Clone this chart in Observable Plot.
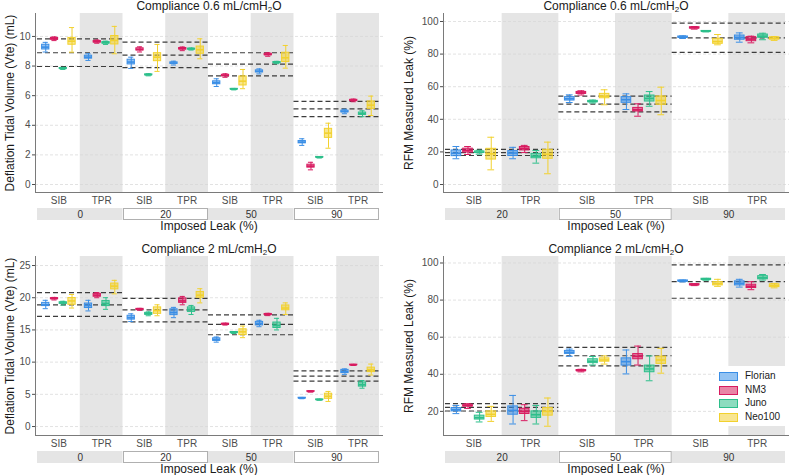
<!DOCTYPE html>
<html><head><meta charset="utf-8">
<script src="https://cdn.jsdelivr.net/npm/d3@7"></script>
<script src="https://cdn.jsdelivr.net/npm/@observablehq/plot@0.6"></script>
<style>
body{margin:0;background:#fff;font-family:"Liberation Sans",Arial,sans-serif;}
#wrap{position:relative;width:789px;height:475px;overflow:hidden;background:#fff;}
#wrap svg{position:absolute;}
.t{position:absolute;white-space:nowrap;color:#1a1a1a;}
.title{font-size:12px;line-height:14px;transform:translateX(-50%);}
.title sub{font-size:8px;vertical-align:-2px;line-height:0;}
.xl{font-size:12px;line-height:11px;height:11px;transform:translateX(-50%);}
.yl{font-size:12px;line-height:14px;transform:translate(-50%,-50%) rotate(-90deg);}
.legend{position:absolute;left:715px;top:366px;width:74px;height:60px;background:#fff;}
.legend .row{position:absolute;left:4px;height:10px;}
.legend .key{position:absolute;left:0;top:0;width:17px;height:7px;border:1px solid;}
.legend .lab{position:absolute;left:26px;top:-2px;font-size:10px;line-height:12px;color:#1a1a1a;white-space:nowrap;}
</style></head><body><div id="wrap"></div>
<script>
// ---------- data ----------
const devices = ["Florian", "NM3", "Juno", "Neo100"];
const deviceColors = ["#3a8ee6", "#d81b60", "#2dbf8b", "#f2d12e"];
const legendFills = ["#93c3f3", "#e885a6", "#8ddcbf", "#f8e590"];
const modes = ["SIB", "TPR"];
const leaksVte = ["0", "20", "50", "90"];
const leaksRfm = ["20", "50", "90"];
const ticksVte06 = [0, 2, 4, 6, 8, 10];
const ticksVte2 = [0, 5, 10, 15, 20, 25];
const ticksRfm06 = [0, 20, 40, 60, 80, 100];
const ticksRfm2 = [20, 40, 60, 80, 100];

// box stats [low whisker, q1, median, q3, high whisker]; order: leak -> SIB/TPR -> device
const vte06 = [
  [8.95, 9.12, 9.28, 9.44, 9.6], [9.72, 9.78, 9.84, 9.9, 9.97], [7.77, 7.81, 7.84, 7.87, 7.91], [8.94, 9.44, 9.68, 9.9, 10.6],
  [8.38, 8.5, 8.6, 8.7, 8.83], [9.54, 9.59, 9.64, 9.69, 9.76], [9.46, 9.52, 9.57, 9.62, 9.68], [8.83, 9.46, 9.73, 10.03, 10.68],
  [7.84, 8.11, 8.27, 8.43, 8.6], [8.95, 9.05, 9.12, 9.2, 9.3], [7.34, 7.38, 7.41, 7.44, 7.48], [7.64, 8.33, 8.6, 8.87, 9.46],
  [8.07, 8.15, 8.2, 8.25, 8.33], [9.04, 9.12, 9.17, 9.22, 9.29], [9.08, 9.12, 9.15, 9.18, 9.22], [8.49, 8.83, 9.1, 9.32, 9.84],
  [6.62, 6.77, 6.87, 6.97, 7.14], [7.24, 7.31, 7.36, 7.41, 7.48], [6.39, 6.42, 6.44, 6.46, 6.49], [6.47, 6.69, 6.98, 7.3, 7.77],
  [7.47, 7.57, 7.64, 7.71, 7.81], [8.66, 8.73, 8.78, 8.83, 8.9], [8.16, 8.21, 8.24, 8.27, 8.32], [7.86, 8.27, 8.56, 8.9, 9.39],
  [2.64, 2.78, 2.86, 2.94, 3.09], [0.99, 1.14, 1.24, 1.34, 1.5], [1.79, 1.82, 1.84, 1.86, 1.89], [2.45, 3.15, 3.47, 3.76, 4.14],
  [4.78, 4.87, 4.93, 4.99, 5.08], [5.59, 5.64, 5.68, 5.72, 5.77], [4.58, 4.7, 4.78, 4.86, 4.98], [4.66, 5.11, 5.36, 5.61, 5.97]
];
const refVte06 = [[7.97, 8.9, 9.84], [7.9, 8.74, 9.62], [7.34, 8.13, 8.9], [4.59, 5.11, 5.61]];

const rfm06 = [
  [15.8, 17.4, 19.2, 20.9, 23.3], [18.4, 19.6, 20.9, 22.0, 23.3], [18.6, 19.3, 19.8, 20.3, 21.0], [9.0, 15.3, 18.8, 21.9, 29.0],
  [15.8, 17.5, 19.3, 20.5, 22.8], [19.6, 20.9, 22.1, 23.0, 24.0], [13.1, 16.1, 17.4, 18.8, 20.9], [6.6, 15.8, 18.6, 21.3, 26.0],
  [50.3, 51.5, 52.6, 53.6, 55.0], [54.9, 55.6, 56.2, 56.8, 57.5], [50.0, 50.5, 50.9, 51.3, 51.8], [48.9, 52.9, 54.2, 55.6, 58.1],
  [46.0, 50.1, 52.0, 53.6, 55.6], [41.9, 44.8, 45.8, 47.0, 49.5], [48.0, 50.9, 52.8, 54.6, 57.0], [42.8, 48.9, 51.5, 54.0, 59.7],
  [89.6, 90.0, 90.4, 90.8, 91.2], [95.3, 95.7, 96.1, 96.5, 96.9], [93.6, 93.8, 94.0, 94.2, 94.4], [85.7, 86.3, 87.7, 89.4, 92.0],
  [87.3, 88.8, 90.2, 91.4, 93.0], [86.9, 87.9, 89.2, 90.4, 91.0], [88.8, 90.0, 91.0, 92.0, 92.8], [88.4, 88.9, 89.6, 90.3, 90.8]
];
const refRfm06 = [[17.8, 19.6, 21.5], [44.6, 49.3, 54.2], [81, 90, 99]];

const vte2 = [
  [18.3, 18.7, 18.9, 19.2, 19.6], [19.65, 19.78, 19.86, 19.94, 20.05], [18.85, 19.05, 19.2, 19.3, 19.45], [18.4, 18.9, 19.5, 19.95, 20.5],
  [17.95, 18.4, 18.8, 19.1, 19.6], [20.0, 20.15, 20.4, 20.6, 20.8], [18.2, 18.7, 19.1, 19.5, 20.0], [20.6, 21.3, 21.8, 22.2, 22.7],
  [16.3, 16.6, 16.9, 17.2, 17.5], [18.05, 18.13, 18.2, 18.27, 18.35], [17.2, 17.35, 17.5, 17.65, 17.8], [17.2, 17.5, 18.0, 18.5, 18.9],
  [16.9, 17.3, 17.7, 18.2, 18.5], [18.9, 19.2, 19.5, 19.9, 20.2], [17.4, 17.8, 18.2, 18.5, 18.8], [19.2, 20.0, 20.4, 20.9, 21.4],
  [13.1, 13.3, 13.5, 13.7, 13.9], [15.75, 15.83, 15.9, 15.97, 16.05], [14.45, 14.52, 14.6, 14.68, 14.75], [13.8, 14.2, 14.7, 15.1, 15.6],
  [15.5, 15.7, 16.0, 16.25, 16.5], [17.22, 17.32, 17.4, 17.48, 17.58], [15.0, 15.3, 15.7, 16.15, 16.8], [17.4, 18.05, 18.4, 18.8, 19.2],
  [4.32, 4.37, 4.42, 4.47, 4.52], [5.35, 5.41, 5.45, 5.49, 5.55], [4.08, 4.13, 4.17, 4.21, 4.26], [3.9, 4.3, 4.7, 5.1, 5.45],
  [8.1, 8.3, 8.5, 8.8, 8.95], [9.48, 9.53, 9.57, 9.61, 9.66], [5.95, 6.2, 6.5, 6.85, 7.15], [8.0, 8.45, 8.8, 9.15, 9.7]
];
const refVte2 = [[17.1, 18.9, 20.8], [16.25, 18.1, 19.9], [14.25, 15.85, 17.35], [7.05, 7.82, 8.64]];

const rfm2 = [
  [18.8, 20.0, 20.9, 21.8, 23.2], [21.6, 22.6, 23.1, 23.6, 24.1], [14.3, 15.6, 16.6, 17.7, 19.5], [14.6, 17.0, 18.4, 20.0, 22.7],
  [13.2, 18.2, 20.5, 22.7, 28.6], [15.0, 18.6, 20.0, 21.4, 23.6], [13.2, 16.5, 18.2, 20.0, 23.2], [12.0, 17.7, 20.0, 21.8, 27.2],
  [49.7, 51.0, 51.8, 52.6, 53.6], [41.3, 41.7, 42.0, 42.3, 42.7], [45.0, 46.0, 47.0, 48.1, 49.6], [45.5, 46.8, 47.7, 48.6, 49.9],
  [40.2, 44.7, 46.8, 48.6, 53.1], [45.0, 48.1, 49.7, 50.9, 55.2], [36.5, 41.1, 42.9, 44.7, 49.9], [40.6, 45.6, 47.7, 49.5, 54.0],
  [89.8, 90.0, 90.3, 90.6, 90.8], [87.8, 88.0, 88.3, 88.6, 88.8], [90.7, 90.9, 91.2, 91.5, 91.7], [87.4, 87.9, 88.8, 89.7, 91.2],
  [87.0, 87.9, 89.0, 90.1, 91.2], [85.6, 86.5, 87.4, 88.3, 89.9], [90.8, 91.2, 92.0, 92.9, 93.8], [86.6, 87.0, 87.8, 88.5, 89.0]
];
const refRfm2 = [[20.2, 22.2, 24.2], [44.5, 50, 54.5], [81, 90, 99]];

// ---------- helpers ----------
const FONT = "Liberation Sans, Arial, sans-serif";
const wrap = document.getElementById("wrap");
const BW = 0.17, CAP = 0.12, DODGE = 0.205;
const MAIN_H = 208, STRIP_H = 12;

function place(el, left, top) {
  el.style.left = left + "px"; el.style.top = top + "px";
  wrap.appendChild(el);
}

function mainPlot(cfg) {
  const {stats, refs, nLeaks, width, height, ml, mr, mt, mb, xDomain, yDomain, yTicks} = cfg;
  const boxes = stats.map((s, i) => {
    const dev = i % 4, col = Math.floor(i / 4);
    return {device: devices[dev], xc: col + 0.5 + (dev - 1.5) * DODGE,
            lo: s[0], q1: s[1], med: s[2], q3: s[3], hi: s[4]};
  });
  const shade = d3.range(nLeaks).map(g => ({x1: 2 * g + 1, x2: 2 * g + 2}));
  const refRows = refs.flatMap((r, g) => r.map(v => ({v, x1: 2 * g, x2: 2 * g + 2})));
  const centers = d3.range(nLeaks * 2).map(c => c + 0.5);
  return Plot.plot({
    width, height, marginLeft: ml, marginRight: mr, marginTop: mt, marginBottom: mb,
    style: {background: "transparent", fontFamily: FONT, fontSize: "10px", color: "#4d4d4d", overflow: "visible"},
    x: {domain: xDomain},
    y: {domain: yDomain},
    color: {domain: devices, range: deviceColors},
    marks: [
      Plot.rect(shade, {x1: "x1", x2: "x2", fill: "#e5e5e5"}),
      Plot.gridY(yTicks, {stroke: "#d6d6d6", strokeOpacity: 0.7, strokeDasharray: "3,2"}),
      Plot.ruleY(refRows, {y: "v", x1: "x1", x2: "x2", stroke: "#3c3c3c", strokeDasharray: "5,3", strokeWidth: 1.2}),
      Plot.ruleX(boxes, {x: "xc", y1: "lo", y2: "hi", stroke: "device", strokeWidth: 1}),
      Plot.ruleY(boxes, {y: "lo", x1: d => d.xc - CAP / 2, x2: d => d.xc + CAP / 2, stroke: "device"}),
      Plot.ruleY(boxes, {y: "hi", x1: d => d.xc - CAP / 2, x2: d => d.xc + CAP / 2, stroke: "device"}),
      Plot.rect(boxes, {x1: d => d.xc - BW / 2, x2: d => d.xc + BW / 2, y1: "q1", y2: "q3",
                        fill: "device", fillOpacity: 0.55, stroke: "device", strokeWidth: 1}),
      Plot.ruleY(boxes, {y: "med", x1: d => d.xc - BW / 2, x2: d => d.xc + BW / 2, stroke: "device", strokeWidth: 1.6}),
      Plot.ruleX([xDomain[0]], {stroke: "#7a7a7a"}),
      Plot.ruleY([yDomain[0]], {stroke: "#7a7a7a"}),
      Plot.axisY(yTicks, {tickSize: 3, tickPadding: 2, label: null, fontSize: 10}),
      Plot.axisX(centers, {tickSize: 0, tickPadding: 4, label: null, fontSize: 10,
                           tickFormat: d => modes[Math.floor(d) % 2]})
    ]
  });
}

function stripPlot(cfg) {
  const {leaks, width, ml, mr, xDomain} = cfg;
  const rows = leaks.map((l, g) => ({leak: l, x1: 2 * g, x2: 2 * g + 2, mid: 2 * g + 1, grey: g % 2 === 0}));
  return Plot.plot({
    width, height: STRIP_H, marginLeft: ml, marginRight: mr, marginTop: 0, marginBottom: 0,
    style: {background: "transparent", fontFamily: FONT, fontSize: "10px", color: "#333", overflow: "visible"},
    x: {domain: xDomain, axis: null},
    y: {domain: [0, 1], axis: null},
    marks: [
      Plot.rect(rows.filter(d => d.grey), {x1: "x1", x2: "x2", y1: 0, y2: 1, fill: "#e5e5e5"}),
      Plot.rect(rows.filter(d => !d.grey), {x1: "x1", x2: "x2", y1: 0, y2: 1, fill: "white",
                                            stroke: "#b0b0b0", strokeWidth: 1, insetLeft: 1, insetRight: 0.5, insetTop: 0.5, insetBottom: 0.5}),
      Plot.text(rows, {x: "mid", y: 0.5, text: "leak", fontSize: 10, fill: "#333"})
    ]
  });
}

function text(cls, html, left, top) {
  const d = document.createElement("div");
  d.className = "t " + cls;
  d.innerHTML = html;
  place(d, left, top);
}

// ---------- panels ----------
const TITLE06 = "Compliance 0.6 mL/cmH<sub>2</sub>O";
const TITLE2 = "Compliance 2 mL/cmH<sub>2</sub>O";
const xDomL = [-0.047, 8.094], xDomR = [-0.035, 6.07];

const panels = [
  {stats: vte06, refs: refVte06, leaks: leaksVte, left: 0, top: 0, width: 395, ml: 35, mr: 12, xDomain: xDomL,
   yDomain: [-0.54, 11.55], yTicks: ticksVte06, title: TITLE06, ylab: "Deflation Tidal Volume (Vte) (mL)", ylx: 10},
  {stats: rfm06, refs: refRfm06, leaks: leaksRfm, left: 395, top: 0, width: 394, ml: 48, mr: 0, xDomain: xDomR,
   yDomain: [-4.9, 104.9], yTicks: ticksRfm06, title: TITLE06, ylab: "RFM Measured Leak (%)", ylx: 409},
  {stats: vte2, refs: refVte2, leaks: leaksVte, left: 0, top: 243, width: 395, ml: 35, mr: 12, xDomain: xDomL,
   yDomain: [-1.39, 26.4], yTicks: ticksVte2, title: TITLE2, ylab: "Deflation Tidal Volume (Vte) (mL)", ylx: 10},
  {stats: rfm2, refs: refRfm2, leaks: leaksRfm, left: 395, top: 243, width: 394, ml: 48, mr: 0, xDomain: xDomR,
   yDomain: [7.0, 103.5], yTicks: ticksRfm2, title: TITLE2, ylab: "RFM Measured Leak (%)", ylx: 409}
];

for (const p of panels) {
  const svg = mainPlot({stats: p.stats, refs: p.refs, nLeaks: p.leaks.length, width: p.width, height: MAIN_H,
    ml: p.ml, mr: p.mr, mt: 13, mb: 16, xDomain: p.xDomain, yDomain: p.yDomain, yTicks: p.yTicks});
  place(svg, p.left, p.top);
  const strip = stripPlot({leaks: p.leaks, width: p.width, ml: p.ml, mr: p.mr, xDomain: p.xDomain});
  place(strip, p.left, p.top + MAIN_H);
  const cx = p.left + p.ml + (p.width - p.ml - p.mr) / 2;
  text("title", p.title, cx, p.top - 1);
  text("xl", "Imposed Leak (%)", cx, p.top + MAIN_H + STRIP_H + 0.5);
  text("yl", p.ylab, p.ylx, p.top + 102.5);
}

// legend
const lg = document.createElement("div");
lg.className = "legend";
devices.forEach((d, i) => {
  const r = document.createElement("div");
  r.className = "row";
  r.style.top = (6 + i * 13.7) + "px";
  r.innerHTML = `<div class="key" style="background:${legendFills[i]};border-color:${deviceColors[i]}"></div><div class="lab">${d}</div>`;
  lg.appendChild(r);
});
wrap.appendChild(lg);
</script>
</body></html>
